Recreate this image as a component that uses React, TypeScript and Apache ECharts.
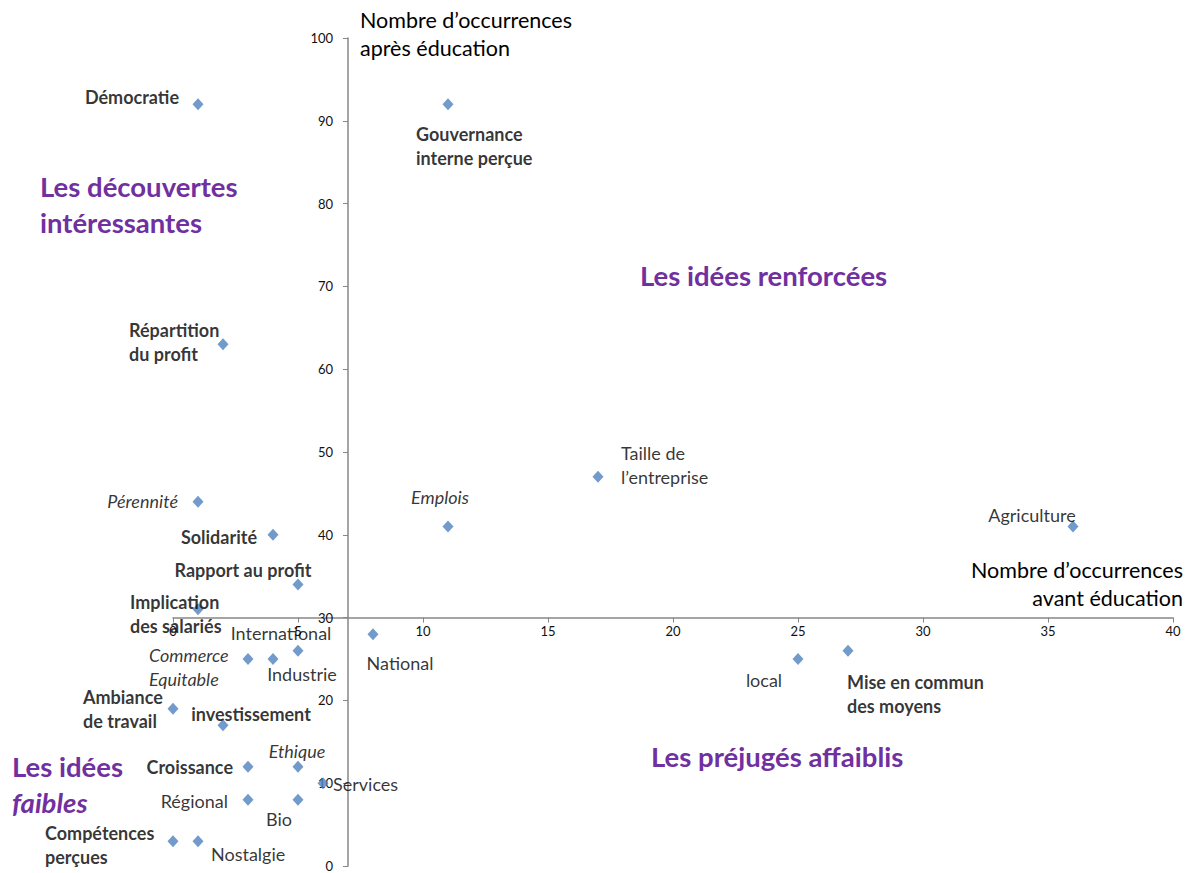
import React, { useEffect, useRef } from "react";
import * as echarts from "echarts";

// ---- Data ----
const names: string[] = [
  "Démocratie",
  "Gouvernance\ninterne perçue",
  "Répartition\ndu profit",
  "Taille de\nl’entreprise",
  "Pérennité",
  "Emplois",
  "Agriculture",
  "Solidarité",
  "Rapport au profit",
  "Implication\ndes salariés",
  "National",
  "International",
  "Commerce\nEquitable",
  "Industrie",
  "local",
  "Mise en commun\ndes moyens",
  "Ambiance\nde travail",
  "investissement",
  "Croissance",
  "Ethique",
  "Services",
  "Régional",
  "Bio",
  "Compétences\nperçues",
  "Nostalgie",
];
const beforeEducation: number[] = [1, 11, 2, 17, 1, 11, 36, 4, 5, 1, 8, 5, 3, 4, 25, 27, 0, 2, 3, 5, 6, 3, 5, 0, 1];
const afterEducation: number[] = [92, 92, 63, 47, 44, 41, 41, 40, 34, 31, 28, 26, 25, 25, 25, 26, 19, 17, 12, 12, 10, 8, 8, 3, 3];
// text style of each label: b = bold, i = italic, n = normal
const labelKinds: string[] = ["b", "b", "b", "n", "i", "i", "n", "b", "b", "b", "n", "n", "i", "n", "n", "b", "b", "b", "b", "i", "n", "n", "n", "b", "n"];

const xTickRange = { min: 0, max: 40, interval: 5 };
const yTickRange = { min: 0, max: 100, interval: 10 };
const xCross = 7; // y axis crosses x at 7
const yCross = 30; // x axis crosses y at 30

const yAxisTitle = "Nombre d’occurrences\naprès éducation";
const xAxisTitleLines = ["Nombre d’occurrences", "avant éducation"];
const quadrantTitles = {
  topLeft: "Les découvertes\nintéressantes",
  topRight: "Les idées renforcées",
  bottomRight: "Les préjugés affaiblis",
  bottomLeftA: "Les idées",
  bottomLeftB: "faibles",
};

// ---- Layout (label placement relative to the marker) ----
const labelPlacement: [number, number, string][] = [
  [-19, -7, "right"],
  [-32, 42, "left"],
  [-94, -2, "left"],
  [23, -12, "left"],
  [-20, -1, "right"],
  [-8, -30, "center"],
  [-41, -12, "center"],
  [-16, 2, "right"],
  [-55, -14, "center"],
  [-68, 5, "left"],
  [27, 29, "center"],
  [-17, -18, "center"],
  [-99, 8, "left"],
  [29, 15, "center"],
  [-34, 21, "center"],
  [-1, 43, "left"],
  [-90, 0, "left"],
  [28, -11, "center"],
  [-15, 0, "right"],
  [-1, -16, "center"],
  [10, 1, "left"],
  [-20, 1, "right"],
  [-19, 19, "center"],
  [-128, 4, "left"],
  [13, 13, "left"],
];

const FONT = "Lato, 'Open Sans', sans-serif";
const W = 1194;
const H = 873;
const PLOT_LEFT = 173;
const PLOT_RIGHT = 21;
const PLOT_TOP = 38;
const PLOT_BOTTOM = 7;
const AXIS_COLOR = "#878787";
const PURPLE = "#7030A0";

export default function App() {
  const ref = useRef<HTMLDivElement>(null);
  useEffect(() => {
    if (!ref.current) return;
    const chart = echarts.init(ref.current, undefined, { renderer: "svg" });
    const plotW = W - PLOT_LEFT - PLOT_RIGHT;
    const plotH = H - PLOT_TOP - PLOT_BOTTOM;
    const xAxisPixelFromTop = ((yTickRange.max - yCross) / (yTickRange.max - yTickRange.min)) * plotH;
    const yAxisPixelFromLeft = ((xCross - xTickRange.min) / (xTickRange.max - xTickRange.min)) * plotW;

    const data = names.map((n, i) => {
      const k = labelKinds[i];
      const p = labelPlacement[i];
      return {
        name: n,
        value: [beforeEducation[i], afterEducation[i]],
        label: {
          show: true,
          position: "inside",
          formatter: n,
          align: p[2],
          verticalAlign: "middle",
          offset: [p[0], p[1]],
          fontFamily: FONT,
          fontSize: 18,
          lineHeight: 24,
          color: "#000",
          fontWeight: k === "b" ? "bold" : "normal",
          fontStyle: k === "i" ? "italic" : "normal",
        },
      };
    });

    const hiddenAxis = (gridIndex: number, r: any) => ({
      gridIndex,
      type: "value",
      min: r.min,
      max: r.max,
      show: false,
    });

    chart.setOption({
      animation: false,
      backgroundColor: "#fff",
      grid: [
        { left: PLOT_LEFT, right: PLOT_RIGHT, top: PLOT_TOP, bottom: PLOT_BOTTOM },
        { left: PLOT_LEFT, width: plotW, top: PLOT_TOP, height: xAxisPixelFromTop },
        { left: PLOT_LEFT + yAxisPixelFromLeft, right: PLOT_RIGHT, top: PLOT_TOP, bottom: PLOT_BOTTOM },
      ],
      xAxis: [
        hiddenAxis(0, xTickRange),
        {
          gridIndex: 1,
          type: "value",
          min: xTickRange.min,
          max: xTickRange.max,
          interval: xTickRange.interval,
          position: "bottom",
          axisLine: { show: true, onZero: false, lineStyle: { color: AXIS_COLOR, width: 1.5 } },
          axisTick: { show: true, length: 5, lineStyle: { color: AXIS_COLOR } },
          axisLabel: { color: "#111", fontFamily: FONT, fontSize: 13, margin: 7 },
          splitLine: { show: false },
        },
        { gridIndex: 2, type: "value", min: xCross, max: xTickRange.max, show: false },
      ],
      yAxis: [
        hiddenAxis(0, yTickRange),
        hiddenAxis(1, { min: yCross, max: yTickRange.max }),
        {
          gridIndex: 2,
          type: "value",
          min: yTickRange.min,
          max: yTickRange.max,
          interval: yTickRange.interval,
          position: "left",
          axisLine: { show: true, onZero: false, lineStyle: { color: AXIS_COLOR, width: 1.5 } },
          axisTick: { show: true, length: 5, lineStyle: { color: AXIS_COLOR } },
          axisLabel: { color: "#111", fontFamily: FONT, fontSize: 13, margin: 15 },
          splitLine: { show: false },
        },
      ],
      graphic: [
        {
          type: "text",
          left: 360,
          top: 6,
          style: { text: yAxisTitle, font: `21.5px ${FONT}`, fill: "#000", lineHeight: 28 },
        },
        {
          type: "text",
          right: 11,
          top: 556,
          style: { text: xAxisTitleLines[0], font: `21.5px ${FONT}`, fill: "#000", lineHeight: 28 },
        },
        {
          type: "text",
          right: 11,
          top: 584,
          style: { text: xAxisTitleLines[1], font: `21.5px ${FONT}`, fill: "#000", lineHeight: 28 },
        },
        {
          type: "text",
          left: 40,
          top: 168,
          style: { text: quadrantTitles.topLeft, font: `bold 27.5px ${FONT}`, fill: PURPLE, lineHeight: 36 },
        },
        {
          type: "text",
          left: 640,
          top: 257,
          style: { text: quadrantTitles.topRight, font: `bold 27.5px ${FONT}`, fill: PURPLE, lineHeight: 36 },
        },
        {
          type: "text",
          left: 651,
          top: 738,
          style: { text: quadrantTitles.bottomRight, font: `bold 27.5px ${FONT}`, fill: PURPLE, lineHeight: 36 },
        },
        {
          type: "text",
          left: 12,
          top: 748,
          style: { text: quadrantTitles.bottomLeftA, font: `bold 27.5px ${FONT}`, fill: PURPLE, lineHeight: 36 },
        },
        {
          type: "text",
          left: 12,
          top: 784,
          style: { text: quadrantTitles.bottomLeftB, font: `italic bold 27.5px ${FONT}`, fill: PURPLE, lineHeight: 36 },
        },
      ],
      series: [
        {
          type: "scatter",
          xAxisIndex: 0,
          yAxisIndex: 0,
          symbol: "diamond",
          symbolSize: [11, 12],
          itemStyle: { color: "#4F81BD" },
          data,
          z: 5,
        },
      ],
    });
    return () => chart.dispose();
  }, []);
  return <div ref={ref} style={{ position: "fixed", left: 0, top: 0, width: W, height: H }} />;
}
